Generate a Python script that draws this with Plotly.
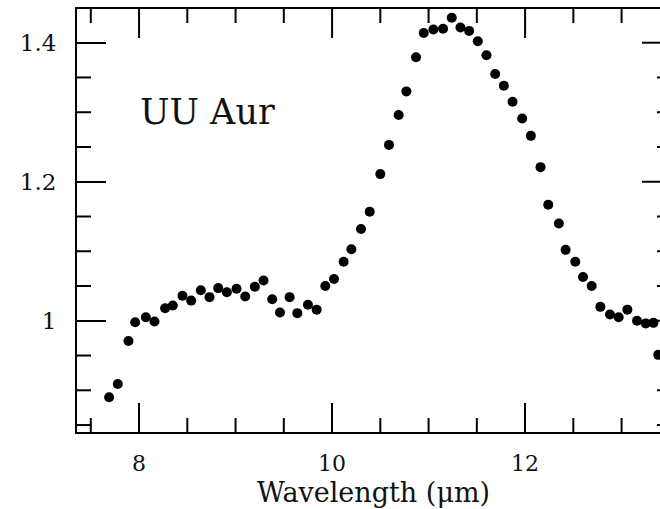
import numpy as np
import plotly.graph_objects as go

# UU Aur mid-infrared spectrum (normalised flux vs wavelength)
wavelength = [7.69, 7.78, 7.89, 7.96, 8.07, 8.16, 8.27, 8.35, 8.45, 8.54,
              8.64, 8.73, 8.82, 8.91, 9.01, 9.10, 9.20, 9.29, 9.38, 9.46,
              9.56, 9.64, 9.75, 9.84, 9.93, 10.02, 10.12, 10.20, 10.30, 10.39,
              10.50, 10.59, 10.69, 10.77, 10.87, 10.95, 11.05, 11.15, 11.24, 11.33,
              11.42, 11.51, 11.60, 11.69, 11.78, 11.87, 11.97, 12.06, 12.16, 12.24,
              12.35, 12.42, 12.52, 12.60, 12.69, 12.78, 12.88, 12.97, 13.06, 13.16,
              13.25, 13.33, 13.38]
flux = [0.890, 0.909, 0.971, 0.998, 1.005, 0.999, 1.018, 1.022, 1.036, 1.029,
        1.044, 1.034, 1.047, 1.041, 1.046, 1.035, 1.049, 1.058, 1.031, 1.012,
        1.034, 1.011, 1.023, 1.016, 1.050, 1.060, 1.085, 1.103, 1.132, 1.157,
        1.211, 1.253, 1.296, 1.330, 1.379, 1.414, 1.419, 1.420, 1.436, 1.422,
        1.417, 1.402, 1.382, 1.355, 1.338, 1.315, 1.291, 1.266, 1.221, 1.167,
        1.140, 1.102, 1.085, 1.063, 1.050, 1.020, 1.009, 1.005, 1.016, 1.000,
        0.996, 0.997, 0.951]

x_range = [7.357, 13.398]
y_range = [0.840, 1.4485]
x_major, x_minor = 2.0, 0.5
y_major, y_minor = 0.2, 0.05
label = "UU Aur"
x_title = "Wavelength (\u03bcm)"

FONT = "DejaVu Serif"
INK = "#111"

# frame geometry in pixels
W, H = 660, 509
ML, MT, MB = 77, 9, 77
PW, PH = W - ML, H - MT - MB          # visible plotting area
FRAME_OVERHANG = 11                   # right frame edge sits this far past the view
MAJOR_LEN, MINOR_LEN = 29, 14


def positions(rng, step, exclude=None):
    """Tick positions inside rng at multiples of step (optionally skipping multiples of exclude)."""
    vals = np.arange(np.ceil(rng[0] / step) * step, rng[1], step)
    if exclude is not None:
        vals = vals[np.abs(vals / exclude - np.round(vals / exclude)) > 1e-6]
    return [round(float(v), 4) for v in vals]


fig = go.Figure()
fig.add_trace(go.Scatter(
    x=wavelength, y=flux, mode="markers",
    marker=dict(color="black", size=10, symbol="circle", line=dict(width=0)),
    showlegend=False,
))

# object name inside the frame
fig.add_annotation(
    text=label, xref="paper", yref="paper", x=0.104, y=0.757,
    xanchor="left", yanchor="middle", showarrow=False,
    font=dict(family=FONT, size=35, color=INK),
)
# x-axis title, centred on the full frame width (frame runs slightly past the view)
fig.add_annotation(
    text=x_title, xref="paper", yref="paper", x=0.509, y=-0.144,
    xanchor="center", yanchor="middle", showarrow=False,
    font=dict(family=FONT, size=27, color=INK),
)

# tick marks not handled by the main axes: minor ticks, top edge, right edge
tick_line = dict(color="black", width=2)
xm = positions(x_range, x_minor, exclude=x_major)
ym = positions(y_range, y_minor, exclude=y_major)
xM = positions(x_range, x_major)
yM = positions(y_range, y_major)

for v in xm:   # bottom minor
    fig.add_shape(type="line", xref="x", yref="paper", x0=v, x1=v,
                  y0=0, y1=MINOR_LEN / PH, line=tick_line)
for v, ln in [(v, MAJOR_LEN) for v in xM] + [(v, MINOR_LEN) for v in xm]:   # top
    fig.add_shape(type="line", xref="x", yref="paper", x0=v, x1=v,
                  y0=1, y1=1 - ln / PH, line=tick_line)
for v in ym:   # left minor
    fig.add_shape(type="line", xref="paper", yref="y", x0=0, x1=MINOR_LEN / PW,
                  y0=v, y1=v, line=tick_line)
for v, ln in [(v, MAJOR_LEN) for v in yM] + [(v, MINOR_LEN) for v in ym]:   # right
    inner = 1 - (ln - FRAME_OVERHANG) / PW
    fig.add_shape(type="line", xref="paper", yref="y", x0=inner, x1=1,
                  y0=v, y1=v, line=tick_line)

fig.update_layout(
    width=W, height=H,
    margin=dict(l=ML, r=0, t=MT, b=MB),
    paper_bgcolor="white", plot_bgcolor="white",
    font=dict(family=FONT, color=INK),
    # bottom axis: major ticks, labels, frame line mirrored to the top
    xaxis=dict(
        range=x_range, tick0=8, dtick=x_major,
        ticks="inside", ticklen=MAJOR_LEN, tickwidth=2, tickcolor="black",
        showline=True, linecolor="black", linewidth=2, mirror=True,
        showgrid=False, zeroline=False,
        tickfont=dict(size=22), ticklabelstandoff=11,
    ),
    # left axis: major ticks, labels, frame line
    yaxis=dict(
        range=y_range, tick0=1, dtick=y_major,
        ticks="inside", ticklen=MAJOR_LEN, tickwidth=2, tickcolor="black",
        showline=True, linecolor="black", linewidth=2,
        showgrid=False, zeroline=False,
        tickfont=dict(size=23), ticklabelstandoff=14,
    ),
)

fig.write_html("out.html")
